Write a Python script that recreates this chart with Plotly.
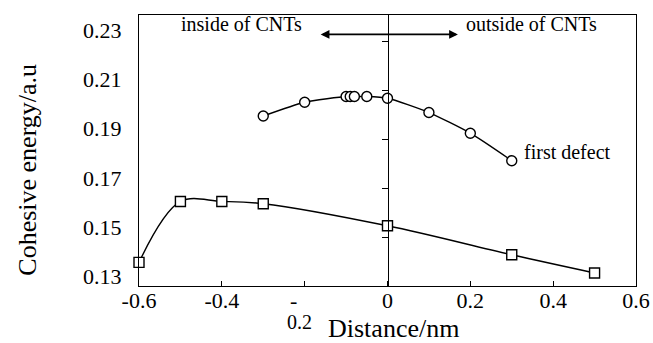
import plotly.graph_objects as go

# ---- data ----
circle_x = [-0.3, -0.2, -0.1, -0.09, -0.08, -0.05, 0.0, 0.1, 0.2, 0.3]
circle_y = [0.1952, 0.2008, 0.2031, 0.2031, 0.2031, 0.2031, 0.2024, 0.1966, 0.1882, 0.1770]

square_x = [-0.6, -0.5, -0.4, -0.3, 0.0, 0.3, 0.5]
square_y = [0.1356, 0.1604, 0.1604, 0.1595, 0.1505, 0.1387, 0.1313]

x_tickvals = [-0.6, -0.4, -0.2, 0.0, 0.2, 0.4, 0.6]
x_ticktext = ["-0.6", "-0.4", "-\u00a0\u00a0\u00a0\u00a0", "0", "0.2", "0.4", "0.6"]
y_tickvals = [0.13, 0.15, 0.17, 0.19, 0.21, 0.23]
y_ticktext = ["0.13", "0.15", "0.17", "0.19", "0.21", "0.23"]

FONT = "Liberation Serif"
Y_RANGE = [0.1260, 0.2363]
TICK_SHIFT = 0.0043  # centre-line ticks sit slightly below their labels in the reference

fig = go.Figure()

fig.add_trace(go.Scatter(
    x=square_x, y=square_y, mode="lines+markers", cliponaxis=False,
    line=dict(color="black", width=1.4, shape="spline", smoothing=1.0),
    marker=dict(symbol="square", size=10, color="white",
                line=dict(color="black", width=1.4)),
    showlegend=False,
))
fig.add_trace(go.Scatter(
    x=circle_x, y=circle_y, mode="lines+markers", cliponaxis=False,
    line=dict(color="black", width=1.4, shape="spline", smoothing=0.6),
    marker=dict(symbol="circle", size=10, color="white",
                line=dict(color="black", width=1.4)),
    showlegend=False,
))

# empty trace on the centre-line axis so that axis is drawn
fig.add_trace(go.Scatter(x=[None], y=[None], yaxis="y2", showlegend=False,
                         hoverinfo="skip"))

fig.update_layout(
    width=653, height=343,
    margin=dict(l=139, r=17, t=15, b=57, autoexpand=False),
    paper_bgcolor="white", plot_bgcolor="white",
    font=dict(family=FONT, color="black", size=22),
    xaxis=dict(
        range=[-0.6, 0.6], tickvals=x_tickvals, ticktext=x_ticktext,
        ticks="inside", ticklen=5, tickwidth=1, tickcolor="black",
        showline=True, linecolor="black", linewidth=1, mirror=True,
        showgrid=False, zeroline=False, automargin=False,
        ticklabelstandoff=-5,
        tickfont=dict(family=FONT, size=22, color="black"),
    ),
    yaxis=dict(
        range=Y_RANGE, tickvals=y_tickvals, ticktext=y_ticktext,
        ticks="", showline=True, linecolor="black", linewidth=1, mirror=True,
        showgrid=False, zeroline=False, automargin=False, ticklabelstandoff=12,
        tickfont=dict(family=FONT, size=22, color="black"),
    ),
    yaxis2=dict(
        overlaying="y", anchor="free", position=0.5, side="left",
        range=[Y_RANGE[0] + TICK_SHIFT, Y_RANGE[1] + TICK_SHIFT],
        tickvals=y_tickvals, showticklabels=False,
        ticks="outside", ticklen=6, tickwidth=1, tickcolor="black",
        showline=True, linecolor="black", linewidth=1,
        showgrid=False, zeroline=False, automargin=False,
    ),
    annotations=[
        dict(text="Cohesive energy/a.u", xref="paper", yref="paper",
             x=-0.226, y=0.428, textangle=-90, showarrow=False,
             font=dict(family=FONT, size=26, color="black"),
             xanchor="center", yanchor="middle"),
        dict(text="Distance/nm", xref="paper", yref="paper",
             x=0.513, y=-0.158, showarrow=False,
             font=dict(family=FONT, size=26, color="black"),
             xanchor="center", yanchor="middle"),
        dict(text="0.2", xref="paper", yref="paper", x=0.322, y=-0.134,
             showarrow=False, font=dict(family=FONT, size=20, color="black"),
             xanchor="center", yanchor="middle"),
        dict(text="inside of CNTs", xref="paper", yref="paper", x=0.206, y=0.968,
             showarrow=False, font=dict(family=FONT, size=20, color="black"),
             xanchor="center", yanchor="middle"),
        dict(text="outside of CNTs", xref="paper", yref="paper", x=0.790, y=0.968,
             showarrow=False, font=dict(family=FONT, size=20, color="black"),
             xanchor="center", yanchor="middle"),
        dict(text="first defect", xref="paper", yref="paper", x=0.771, y=0.494,
             showarrow=False, font=dict(family=FONT, size=20, color="black"),
             xanchor="left", yanchor="middle"),
        dict(text="", x=0.170, y=0.2284, ax=-0.165, ay=0.2284,
             xref="x", yref="y", axref="x", ayref="y",
             showarrow=True, arrowhead=2, arrowside="end+start",
             arrowsize=1.1, arrowwidth=1.6, arrowcolor="black"),
    ],
)

fig.write_html("out.html", config={"displayModeBar": False},
               post_script="document.body.style.margin='0';")
